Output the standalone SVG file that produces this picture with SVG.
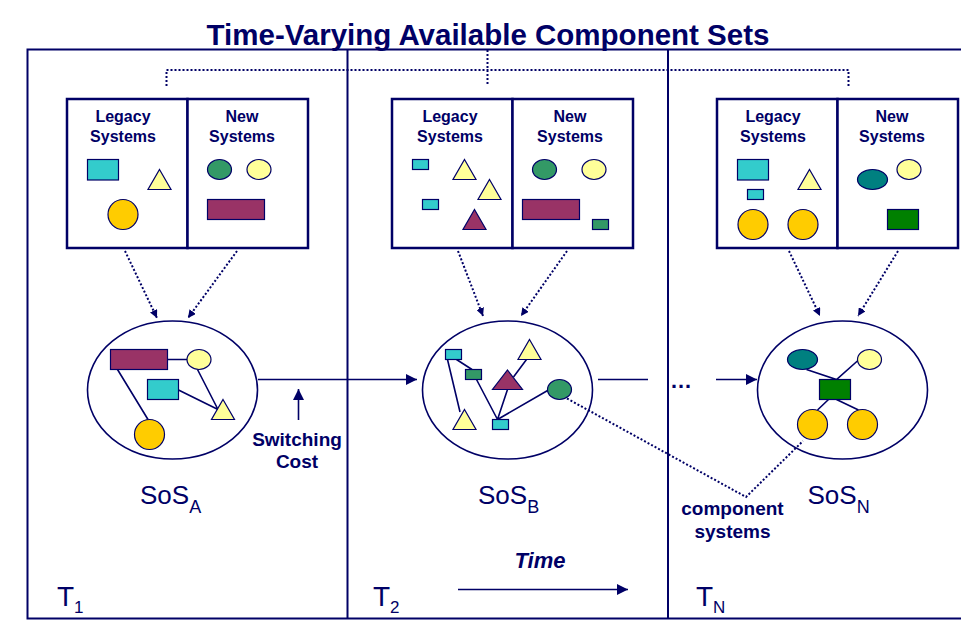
<svg xmlns="http://www.w3.org/2000/svg" width="961" height="620" viewBox="0 0 961 620">
<style>
.frame{stroke:#000066;stroke-width:2;fill:none}
.panel{stroke:#000066;stroke-width:2.5;fill:#fff}
.sh{stroke:#000066;stroke-width:1.2}
.teal{fill:#33CCCC}.yel{fill:#FFFF99}.gold{fill:#FFCC00}.grn{fill:#339966}.mar{fill:#993366}.dteal{fill:#008080}.dgrn{fill:#008000}
.ell{fill:#fff;stroke:#000066;stroke-width:1.6}
.ln{stroke:#000066;stroke-width:1.6;fill:none}
.dot{stroke:#000066;stroke-width:2;stroke-dasharray:2 2;fill:none}
.hdr{font-family:"Liberation Sans",Arial,sans-serif;font-weight:bold;font-size:16px;fill:#000066;text-anchor:middle}
.lbl{font-family:"Liberation Sans",Arial,sans-serif;font-weight:bold;font-size:19px;fill:#000066;text-anchor:middle}
.sos{font-family:"Liberation Sans",Arial,sans-serif;font-size:26px;fill:#000066}
.sub{font-size:18px}
.tt{font-family:"Liberation Sans",Arial,sans-serif;font-size:28px;fill:#000066}
.tsub{font-size:17px}
</style>
<defs>
<marker id="ah" viewBox="0 0 10 10" refX="10" refY="5" markerWidth="11" markerHeight="11" markerUnits="userSpaceOnUse" orient="auto"><path d="M0,0 L10,5 L0,10 z" fill="#000066"/></marker>
<marker id="ahs" viewBox="0 0 10 10" refX="10" refY="5" markerWidth="8" markerHeight="8" markerUnits="userSpaceOnUse" orient="auto"><path d="M0,0 L10,5 L0,10 z" fill="#000066"/></marker>
</defs>
<rect width="961" height="620" fill="#fff"/>
<g id="frame">
<path class="frame" d="M961,49.5 H27.5 V618.5 H961 M347.5,49.5 V618.5 M668,49.5 V618.5"/>
</g>
<text x="488" y="44.5" font-family="Liberation Sans, Arial, sans-serif" font-weight="bold" font-size="29.5" fill="#000066" text-anchor="middle">Time-Varying Available Component Sets</text>
<text x="681" y="388" font-family="Liberation Sans, Arial, sans-serif" font-weight="bold" font-size="22" fill="#000066" text-anchor="middle">…</text>
<g id="panel-1">
<rect class="panel" x="67" y="99" width="120.5" height="149"/>
<rect class="panel" x="187.5" y="99" width="120.5" height="149"/>
<text class="hdr" x="123" y="122">Legacy</text><text class="hdr" x="123" y="142">Systems</text>
<text class="hdr" x="242" y="122">New</text><text class="hdr" x="242" y="142">Systems</text>
<rect class="sh teal" x="87.5" y="159.5" width="31" height="20.5"/>
<path class="sh yel" d="M159.5,169.5 L171,189.5 H148 Z"/>
<circle class="sh gold" cx="123" cy="214.5" r="15"/>
<ellipse class="sh grn" cx="219.5" cy="169.5" rx="12" ry="10"/>
<ellipse class="sh yel" cx="259" cy="169.5" rx="12" ry="10"/>
<rect class="sh mar" x="207.5" y="199.5" width="57" height="20"/>
</g>
<g id="panel-2">
<rect class="panel" x="392" y="99" width="120.5" height="149"/>
<rect class="panel" x="512.5" y="99" width="120.5" height="149"/>
<text class="hdr" x="450" y="122">Legacy</text><text class="hdr" x="450" y="142">Systems</text>
<text class="hdr" x="570" y="122">New</text><text class="hdr" x="570" y="142">Systems</text>
<rect class="sh teal" x="412.5" y="159.5" width="16" height="10"/>
<path class="sh yel" d="M464.5,159.5 L476,179.5 H453 Z"/>
<path class="sh yel" d="M489.5,179.5 L501,199.5 H478 Z"/>
<rect class="sh teal" x="422.5" y="199.5" width="16" height="10"/>
<path class="sh mar" d="M474.5,209.5 L486,229.5 H463 Z"/>
<ellipse class="sh grn" cx="544.5" cy="169.5" rx="12" ry="10"/>
<ellipse class="sh yel" cx="594" cy="169.5" rx="12" ry="10"/>
<rect class="sh mar" x="522.5" y="199.5" width="57" height="20"/>
<rect class="sh grn" x="592.5" y="219.5" width="16" height="10"/>
</g>
<g id="panel-3">
<rect class="panel" x="717" y="99" width="120.5" height="149"/>
<rect class="panel" x="837.5" y="99" width="120.5" height="149"/>
<text class="hdr" x="773" y="122">Legacy</text><text class="hdr" x="773" y="142">Systems</text>
<text class="hdr" x="892" y="122">New</text><text class="hdr" x="892" y="142">Systems</text>
<rect class="sh teal" x="737.5" y="159.5" width="31" height="20.5"/>
<rect class="sh teal" x="747.5" y="189.5" width="16" height="10"/>
<path class="sh yel" d="M809.5,169.5 L821,189.5 H798 Z"/>
<circle class="sh gold" cx="753" cy="224.5" r="15"/>
<circle class="sh gold" cx="803" cy="224.5" r="15"/>
<ellipse class="sh dteal" cx="872.5" cy="179.5" rx="15" ry="10"/>
<ellipse class="sh yel" cx="909" cy="169.5" rx="12" ry="10"/>
<rect class="sh dgrn" x="887.5" y="209.5" width="31" height="20"/>
</g>
<g id="sos-a">
<ellipse class="ell" cx="172.5" cy="390" rx="85" ry="69"/>
<path class="ln" d="M167.5,359.5 H188 M117.5,369.5 L148,419.5 M197.5,369.5 L218,409.5 M177.5,389.5 L218,409.5"/>
<rect class="sh mar" x="110.5" y="349.5" width="57" height="20"/>
<ellipse class="sh yel" cx="199" cy="359.5" rx="12" ry="10"/>
<rect class="sh teal" x="147.5" y="379.5" width="31" height="20"/>
<path class="sh yel" d="M223,399.5 L234.5,419.5 H211.5 Z"/>
<circle class="sh gold" cx="149.5" cy="434.5" r="15"/>
<text class="sos" x="140" y="503.5">SoS<tspan class="sub" dy="9">A</tspan></text>
</g>
<g id="sos-b">
<ellipse class="ell" cx="507.5" cy="390" rx="85" ry="69"/>
<path class="ln" d="M456.5,359.5 L472,369.5 M447.5,359.5 L460,412 M476.5,379.5 L497.5,419.5 M507.5,389.5 L497.5,419.5 M548.5,390 L497.5,419.5 M526.5,359.5 L513.5,377"/>
<rect class="sh teal" x="445.5" y="349.5" width="16" height="10"/>
<rect class="sh grn" x="465.5" y="369.5" width="16" height="10"/>
<path class="sh mar" d="M507.5,370 L522.5,389.5 H492.5 Z"/>
<path class="sh yel" d="M529.5,339.5 L541,359.5 H518 Z"/>
<path class="sh yel" d="M464.5,409.5 L476,429.5 H453 Z"/>
<rect class="sh teal" x="492.5" y="419.5" width="16" height="10"/>
<text class="sos" x="478" y="503.5">SoS<tspan class="sub" dy="9">B</tspan></text>
</g>
<g id="sos-n">
<ellipse class="ell" cx="842.5" cy="390" rx="85" ry="69"/>
<path class="ln" d="M806.5,369.5 L836.5,379.5 L858.5,360 M828.5,399.5 L817.5,410 M836.5,399.5 L858.5,410"/>
<ellipse class="sh dteal" cx="802.5" cy="359.5" rx="15" ry="10"/>
<ellipse class="sh yel" cx="869.5" cy="359.5" rx="12" ry="10"/>
<rect class="sh dgrn" x="819.5" y="379.5" width="31" height="20"/>
<circle class="sh gold" cx="862.5" cy="424.5" r="15"/>
<text class="sos" x="807.5" y="503.5">SoS<tspan class="sub" dy="9">N</tspan></text>
</g>
<g id="connectors">
<path class="dot" d="M166.5,86 V70 H848.5 V86 M487.5,50 V86"/>
<line class="dot" x1="125" y1="251" x2="157" y2="318" marker-end="url(#ahs)"/>
<line class="dot" x1="237" y1="251" x2="188" y2="318" marker-end="url(#ahs)"/>
<line class="dot" x1="458" y1="251" x2="483" y2="316" marker-end="url(#ahs)"/>
<line class="dot" x1="567" y1="251" x2="521" y2="316" marker-end="url(#ahs)"/>
<line class="dot" x1="789" y1="251" x2="820" y2="316" marker-end="url(#ahs)"/>
<line class="dot" x1="898" y1="251" x2="858" y2="316" marker-end="url(#ahs)"/>
<line class="ln" x1="258" y1="379.5" x2="417" y2="379.5" marker-end="url(#ah)"/>
<line class="ln" x1="298.5" y1="420" x2="298.5" y2="389" marker-end="url(#ah)"/>
<line class="ln" x1="598" y1="379.5" x2="648" y2="379.5"/>
<line class="ln" x1="716" y1="379.5" x2="757" y2="379.5" marker-end="url(#ah)"/>
<line class="ln" x1="458" y1="589.5" x2="628" y2="589.5" marker-end="url(#ah)"/>
<path class="dot" d="M567,398.5 L746,497 L803,441"/>
</g>
<g id="sos-b-green">
<ellipse class="sh grn" cx="559.5" cy="389.5" rx="12" ry="10"/>
</g>
<g id="sos-n-gold">
<circle class="sh gold" cx="812.5" cy="424.5" r="15"/>
</g>
<g id="labels">
<text class="lbl" x="297" y="446">Switching</text>
<text class="lbl" x="297" y="468">Cost</text>
<text class="lbl" x="732.5" y="515">component</text>
<text class="lbl" x="732.5" y="538">systems</text>
<text x="540" y="567.5" font-family="Liberation Sans, Arial, sans-serif" font-weight="bold" font-style="italic" font-size="22" fill="#000066" text-anchor="middle">Time</text>
<text class="tt" x="57" y="606">T<tspan class="tsub" dy="6.5">1</tspan></text>
<text class="tt" x="373" y="606">T<tspan class="tsub" dy="6.5">2</tspan></text>
<text class="tt" x="696" y="606">T<tspan class="tsub" dy="6.5">N</tspan></text>
</g>
</svg>
